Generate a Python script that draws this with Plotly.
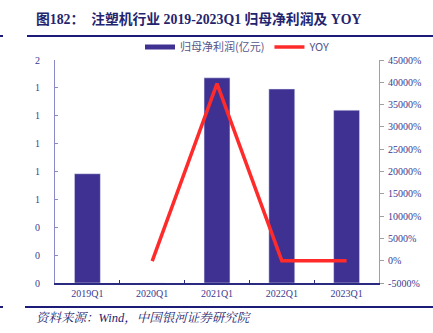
import plotly.graph_objects as go

categories = ["2019Q1", "2020Q1", "2021Q1", "2022Q1", "2023Q1"]
profit = [0.98, 0.0, 1.84, 1.74, 1.55]          # 归母净利润(亿元)
yoy = [None, -90, 39700, -5, -10]                # YOY (%)
left_tickvals = [0, 0.25, 0.5, 0.75, 1.0, 1.25, 1.5, 1.75, 2.0]
left_ticktext = ["0", "0", "0", "1", "1", "1", "1", "1", "2"]
right_tickvals = [-5000, 0, 5000, 10000, 15000, 20000, 25000, 30000, 35000, 40000, 45000]
right_ticktext = ["-5000%", "0%", "5000%", "10000%", "15000%", "20000%",
                  "25000%", "30000%", "35000%", "40000%", "45000%"]

BAR = "#3f3192"
RED = "#ff2b2b"
NAVY = "#24246e"
TICK = "#3b3b8f"
SERIF = "Liberation Serif, Times New Roman, Noto Serif CJK SC, Noto Sans CJK SC, serif"

W, H = 433, 333
L, R, T, B = 55, 379, 60, 283

def px(x):
    return (x - L) / (R - L)

def py(y):
    return (B - y) / (B - T)

fig = go.Figure()
fig.add_trace(go.Bar(x=categories, y=profit, marker_color=BAR, width=0.4,
                     showlegend=False, name="归母净利润(亿元)"))
fig.add_trace(go.Scatter(x=categories, y=yoy, yaxis="y2", mode="lines",
                         line=dict(color=RED, width=3.5), showlegend=False, name="YOY"))
# legend entries drawn as line samples
fig.add_trace(go.Scatter(x=[None], y=[None], mode="lines",
                         line=dict(color=BAR, width=5), name="归母净利润(亿元)"))
fig.add_trace(go.Scatter(x=[None], y=[None], mode="lines", yaxis="y2",
                         line=dict(color=RED, width=3.5), name="YOY"))

fig.update_layout(
    width=W, height=H,
    margin=dict(l=L, r=W - R, t=T, b=H - B, pad=0),
    paper_bgcolor="white", plot_bgcolor="white",
    font=dict(family=SERIF, size=10, color=TICK),
    showlegend=True,
    legend=dict(orientation="h", x=px(140), xanchor="left", y=py(47), yanchor="middle",
                font=dict(size=11, color="#55558a", family="Noto Sans CJK SC, Liberation Serif"),
                itemwidth=30, tracegroupgap=0, bgcolor="rgba(0,0,0,0)"),
    xaxis=dict(showline=True, linecolor="#2a2a80", linewidth=1.5,
               ticks="inside", tickson="boundaries", ticklen=3, tickcolor="#2a2a80",
               showgrid=False, tickfont=dict(size=10, color=TICK, family=SERIF)),
    yaxis=dict(range=[0, 2], tickvals=left_tickvals, ticktext=left_ticktext,
               showline=True, linecolor="#8a8ac8", linewidth=1.2,
               ticks="inside", ticklen=3, tickcolor="#8a8ac8",
               showgrid=False, zeroline=False, ticklabelstandoff=12,
               tickfont=dict(size=10, color=TICK, family=SERIF)),
    yaxis2=dict(range=[-5000, 45000], tickvals=right_tickvals, ticktext=right_ticktext,
                overlaying="y", side="right", showline=True, linecolor="#a0a0a0",
                linewidth=1.2, ticks="outside", ticklen=4, tickcolor="#a0a0a0",
                showgrid=False, zeroline=False, ticklabelstandoff=2,
                tickfont=dict(size=10, color=TICK, family=SERIF)),
    bargap=0.6,
)

shapes = [
    dict(type="line", xref="paper", yref="paper", x0=px(27), x1=px(433), y0=py(36), y1=py(36),
         line=dict(color="#1c1c78", width=2)),
    dict(type="line", xref="paper", yref="paper", x0=px(0), x1=px(3), y0=py(36), y1=py(36),
         line=dict(color="#1c1c78", width=2)),
    dict(type="line", xref="paper", yref="paper", x0=px(25), x1=px(433), y0=py(307), y1=py(307),
         line=dict(color="#1c1c78", width=2)),
    dict(type="line", xref="paper", yref="paper", x0=px(0), x1=px(3), y0=py(307), y1=py(307),
         line=dict(color="#1c1c78", width=2)),
]
fig.update_layout(shapes=shapes)

fig.add_annotation(xref="paper", yref="paper", x=px(34), y=py(19), xanchor="left", yanchor="middle",
                   text="<b>图182：  注塑机行业 2019-2023Q1 归母净利润及 YOY</b>", showarrow=False,
                   font=dict(size=13.8, color=NAVY,
                             family="Liberation Serif, Times New Roman, Noto Sans CJK SC"))
fig.add_annotation(xref="paper", yref="paper", x=px(34), y=py(318), xanchor="left", yanchor="middle",
                   text="<i>资料来源：Wind，中国银河证券研究院</i>", showarrow=False,
                   font=dict(size=12.5, color=NAVY,
                             family="Liberation Serif, Times New Roman, Noto Serif CJK SC, Noto Sans CJK SC"))

fig.write_html("out.html")
